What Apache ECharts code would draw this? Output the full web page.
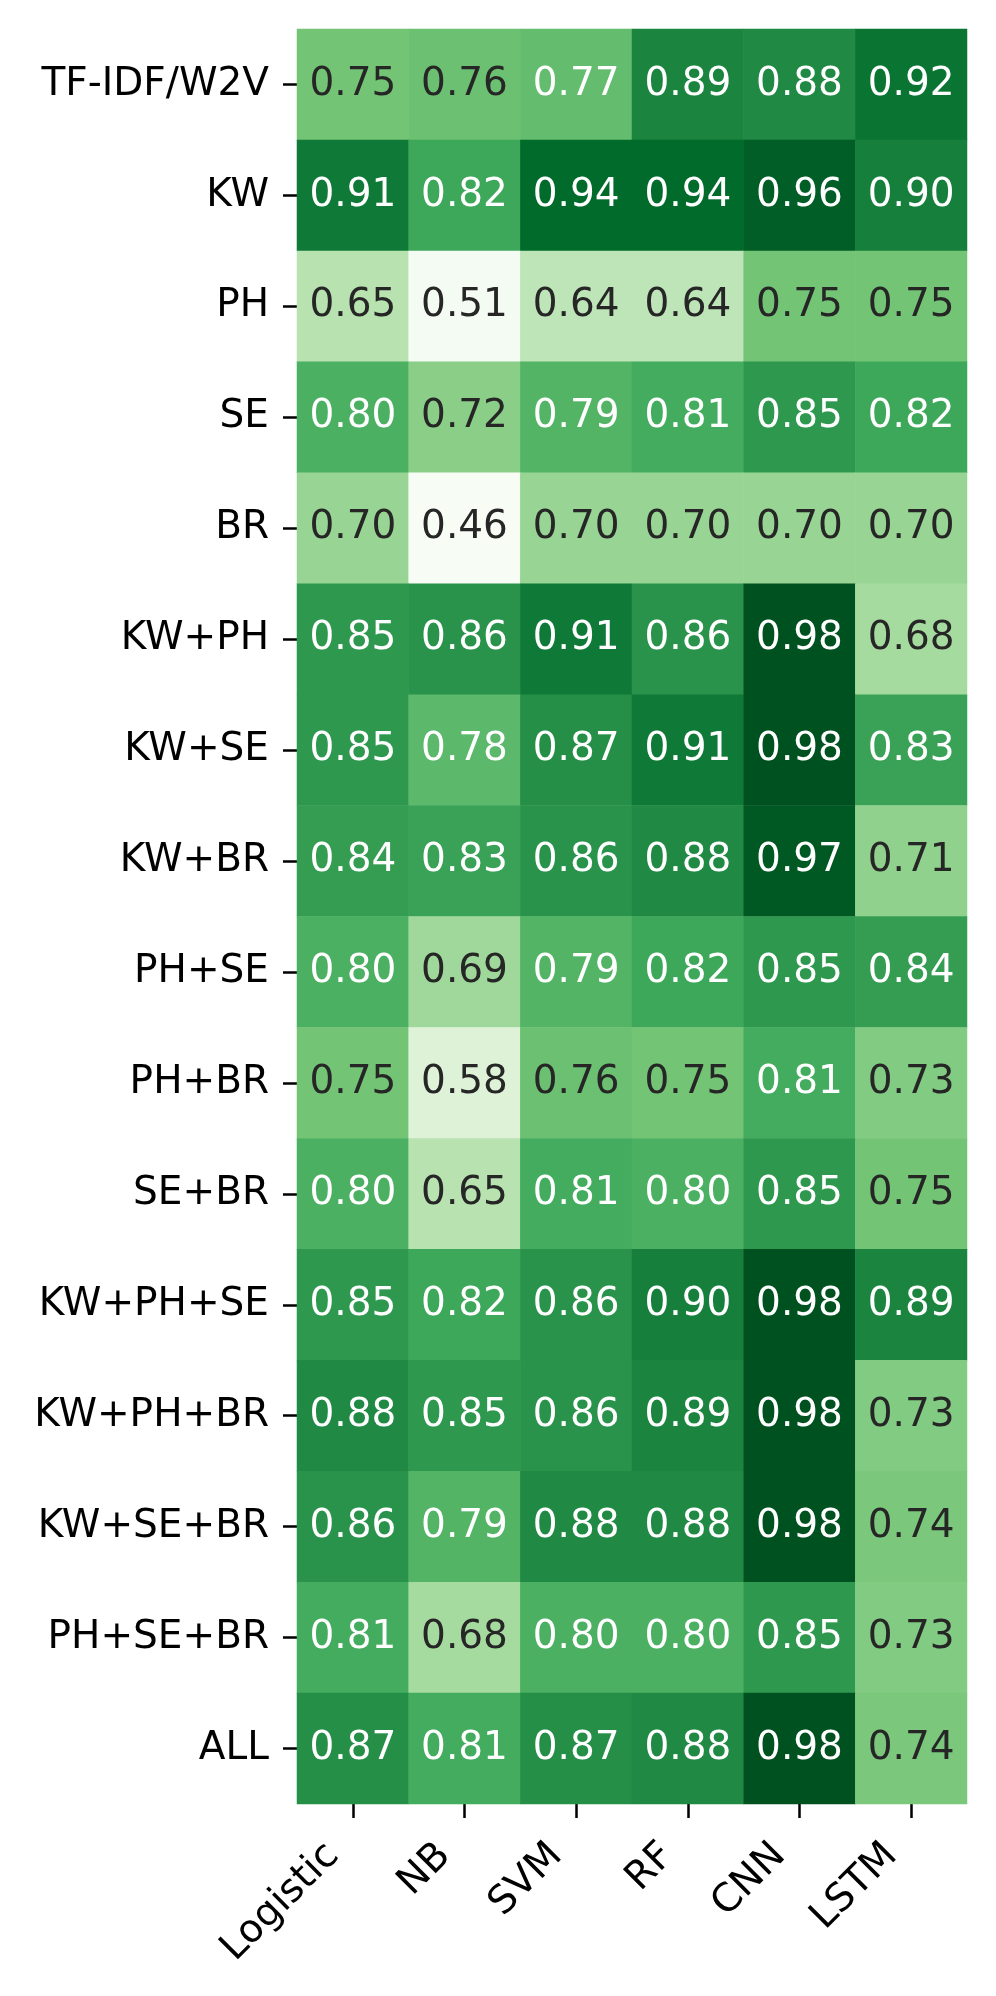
<!DOCTYPE html>
<html>
<head>
<meta charset="utf-8">
<script src="https://cdn.jsdelivr.net/npm/echarts@6/dist/echarts.min.js"></script>
<style>
  html, body { margin: 0; padding: 0; background: #fff; }
  #chart { width: 996px; height: 1996px; }
</style>
</head>
<body>
<div id="chart"></div>
<script>
  // models on x, feature sets on y
  var models = ['Logistic', 'NB', 'SVM', 'RF', 'CNN', 'LSTM']
  var features = ['TF-IDF/W2V', 'KW', 'PH', 'SE', 'BR', 'KW+PH', 'KW+SE', 'KW+BR',
    'PH+SE', 'PH+BR', 'SE+BR', 'KW+PH+SE', 'KW+PH+BR', 'KW+SE+BR', 'PH+SE+BR', 'ALL']

  // one row per feature set, columns follow models
  var scores = [
    [0.75, 0.76, 0.77, 0.89, 0.88, 0.92],
    [0.91, 0.82, 0.94, 0.94, 0.96, 0.90],
    [0.65, 0.51, 0.64, 0.64, 0.75, 0.75],
    [0.80, 0.72, 0.79, 0.81, 0.85, 0.82],
    [0.70, 0.46, 0.70, 0.70, 0.70, 0.70],
    [0.85, 0.86, 0.91, 0.86, 0.98, 0.68],
    [0.85, 0.78, 0.87, 0.91, 0.98, 0.83],
    [0.84, 0.83, 0.86, 0.88, 0.97, 0.71],
    [0.80, 0.69, 0.79, 0.82, 0.85, 0.84],
    [0.75, 0.58, 0.76, 0.75, 0.81, 0.73],
    [0.80, 0.65, 0.81, 0.80, 0.85, 0.75],
    [0.85, 0.82, 0.86, 0.90, 0.98, 0.89],
    [0.88, 0.85, 0.86, 0.89, 0.98, 0.73],
    [0.86, 0.79, 0.88, 0.88, 0.98, 0.74],
    [0.81, 0.68, 0.80, 0.80, 0.85, 0.73],
    [0.87, 0.81, 0.87, 0.88, 0.98, 0.74]
  ]

  var greens = ['#f7fcf5', '#e5f5e0', '#c7e9c0', '#a1d99b', '#74c476',
    '#41ab5d', '#238b45', '#006d2c', '#00441b']
  var font = 'DejaVu Sans'

  var cells = []
  scores.forEach(function (row, y) {
    row.forEach(function (v, x) {
      cells.push({
        value: [x, y, v],
        label: { color: v < 0.765 ? '#262626' : '#ffffff' }
      })
    })
  })

  var chart = echarts.init(document.getElementById('chart'))
  chart.setOption({
    animation: false,
    grid: { left: 297, top: 29, width: 670, height: 1775 },
    xAxis: {
      type: 'category',
      data: models,
      axisLine: { show: false },
      axisTick: { show: true, alignWithLabel: true, length: 14, lineStyle: { color: '#000', width: 2.5 } },
      axisLabel: {
        rotate: 45, margin: 26, padding: [0, 28, 0, 0],
        color: '#000', fontSize: 39, fontFamily: font
      },
      splitLine: { show: false }
    },
    yAxis: {
      type: 'category',
      data: features,
      inverse: true,
      axisLine: { show: false },
      axisTick: { show: true, alignWithLabel: true, length: 14, lineStyle: { color: '#000', width: 2.5 } },
      axisLabel: { margin: 28, color: '#000', fontSize: 39, fontFamily: font },
      splitLine: { show: false }
    },
    visualMap: {
      show: false,
      type: 'continuous',
      min: 0.5,
      max: 1.0,
      inRange: { color: greens },
      outOfRange: { color: '#f7fcf5' }
    },
    series: [{
      type: 'heatmap',
      data: cells,
      label: {
        show: true,
        fontSize: 39,
        fontFamily: font,
        formatter: function (p) { return p.value[2].toFixed(2) }
      },
      itemStyle: { borderWidth: 0 },
      emphasis: { disabled: true }
    }]
  })
</script>
</body>
</html>
